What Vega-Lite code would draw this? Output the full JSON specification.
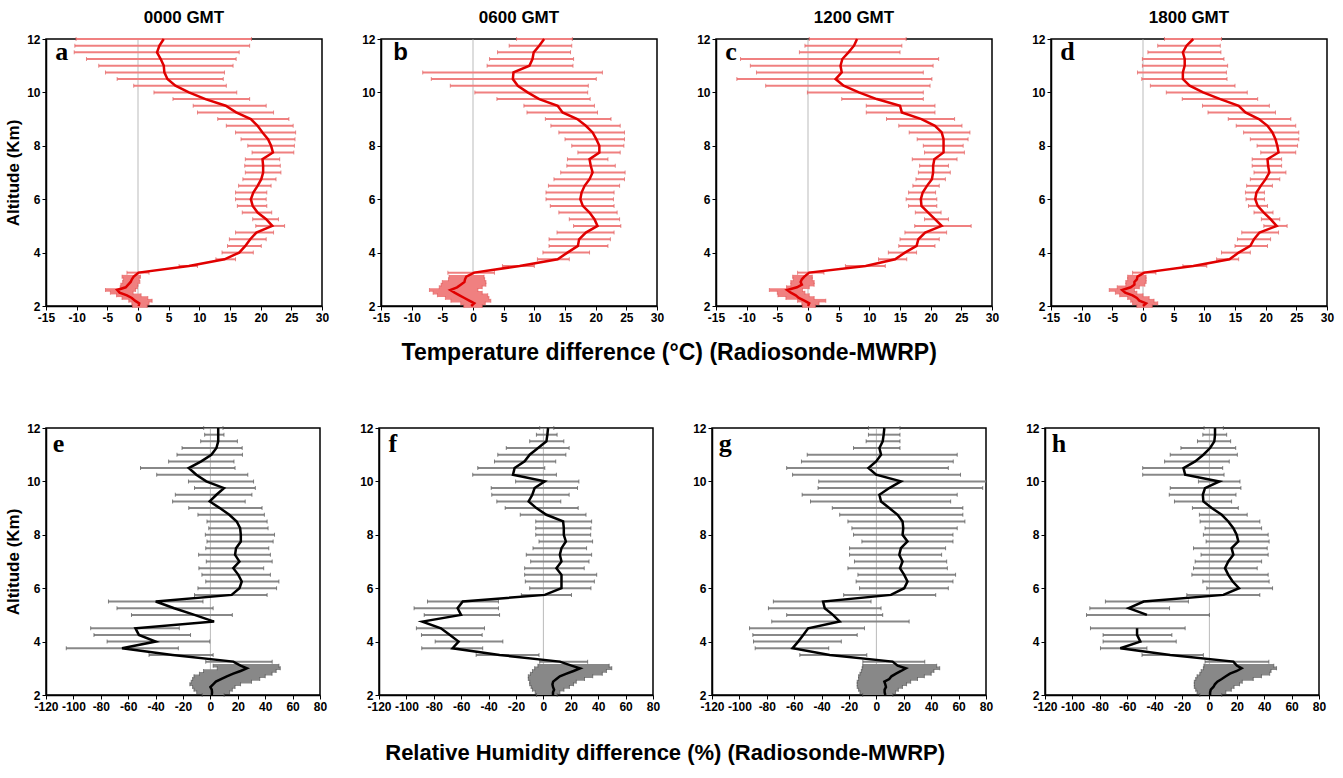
{
"$schema": "https://vega.github.io/schema/vega-lite/v6.json",
"padding": {"left": 3, "top": 8, "right": 5, "bottom": 5},
"background": "white",
"datasets": {
"a": [{"alt":12,"m":4.2,"lo":-10.1,"hi":18.5},{"alt":11.75,"m":3.5,"lo":-10.3,"hi":18.2},{"alt":11.5,"m":3.1,"lo":-10.4,"hi":16.5},{"alt":11.25,"m":3.7,"lo":-8.4,"hi":16.0},{"alt":11,"m":4.2,"lo":-6.4,"hi":15.5},{"alt":10.75,"m":4.3,"lo":-5.3,"hi":14.1},{"alt":10.5,"m":4.8,"lo":-3.4,"hi":13.9},{"alt":10.25,"m":6.1,"lo":-0.7,"hi":14.4},{"alt":10,"m":8.3,"lo":2.6,"hi":16.1},{"alt":9.75,"m":11.0,"lo":5.7,"hi":18.2},{"alt":9.5,"m":14.3,"lo":9.0,"hi":20.9},{"alt":9.25,"m":16.0,"lo":9.7,"hi":22.1},{"alt":9,"m":18.4,"lo":13.0,"hi":24.6},{"alt":8.75,"m":19.5,"lo":14.4,"hi":25.3},{"alt":8.5,"m":20.3,"lo":15.9,"hi":25.7},{"alt":8.25,"m":21.2,"lo":16.8,"hi":25.6},{"alt":8,"m":21.7,"lo":17.9,"hi":25.5},{"alt":7.75,"m":22.0,"lo":18.6,"hi":25.4},{"alt":7.5,"m":20.3,"lo":17.5,"hi":23.1},{"alt":7.25,"m":20.4,"lo":17.4,"hi":23.2},{"alt":7,"m":20.4,"lo":17.5,"hi":23.3},{"alt":6.75,"m":20.1,"lo":17.1,"hi":22.5},{"alt":6.5,"m":19.5,"lo":16.4,"hi":21.7},{"alt":6.25,"m":18.8,"lo":15.9,"hi":21.0},{"alt":6,"m":18.4,"lo":15.9,"hi":20.9},{"alt":5.75,"m":18.7,"lo":16.2,"hi":21.0},{"alt":5.5,"m":19.5,"lo":17.0,"hi":21.8},{"alt":5.25,"m":20.9,"lo":18.7,"hi":22.9},{"alt":5,"m":21.9,"lo":19.2,"hi":23.9},{"alt":4.75,"m":19.3,"lo":15.9,"hi":22.1},{"alt":4.5,"m":18.3,"lo":14.9,"hi":20.9},{"alt":4.25,"m":17.5,"lo":14.6,"hi":20.1},{"alt":4,"m":16.5,"lo":13.7,"hi":18.8},{"alt":3.75,"m":14.1,"lo":12.7,"hi":15.9},{"alt":3.5,"m":8.3,"lo":6.7,"hi":9.7},{"alt":3.25,"m":0.1,"lo":-1.8,"hi":1.8},{"alt":3.1,"m":-0.7,"lo":-2.6,"hi":0.4},{"alt":3.0,"m":-1.0,"lo":-2.4,"hi":0.2},{"alt":2.9,"m":-1.2,"lo":-2.5,"hi":0.3},{"alt":2.8,"m":-1.6,"lo":-2.8,"hi":0.0},{"alt":2.7,"m":-2.0,"lo":-2.9,"hi":-0.1},{"alt":2.6,"m":-3.4,"lo":-5.3,"hi":-0.4},{"alt":2.5,"m":-3.0,"lo":-4.5,"hi":-0.8},{"alt":2.4,"m":-1.8,"lo":-3.5,"hi":0.5},{"alt":2.3,"m":-1.0,"lo":-2.6,"hi":1.6},{"alt":2.2,"m":-0.5,"lo":-1.5,"hi":2.3},{"alt":2.1,"m":0.2,"lo":-1.0,"hi":1.8},{"alt":2.0,"m":0.1,"lo":-0.9,"hi":1.5}],
"b": [{"alt":12,"m":11.6,"lo":7.1,"hi":16.2},{"alt":11.75,"m":10.8,"lo":5.9,"hi":16.1},{"alt":11.5,"m":9.9,"lo":4.0,"hi":15.9},{"alt":11.25,"m":9.7,"lo":2.7,"hi":16.4},{"alt":11,"m":9.2,"lo":2.3,"hi":16.3},{"alt":10.75,"m":6.6,"lo":-8.2,"hi":21.1},{"alt":10.5,"m":6.5,"lo":-6.8,"hi":20.1},{"alt":10.25,"m":7.3,"lo":-3.7,"hi":18.8},{"alt":10,"m":8.9,"lo":0.3,"hi":18.7},{"alt":9.75,"m":10.8,"lo":3.9,"hi":19.1},{"alt":9.5,"m":13.8,"lo":8.3,"hi":19.8},{"alt":9.25,"m":14.6,"lo":8.8,"hi":20.3},{"alt":9,"m":17.0,"lo":11.8,"hi":22.5},{"alt":8.75,"m":18.4,"lo":12.7,"hi":24.0},{"alt":8.5,"m":19.5,"lo":14.0,"hi":24.7},{"alt":8.25,"m":20.1,"lo":15.0,"hi":24.7},{"alt":8,"m":20.6,"lo":16.1,"hi":24.6},{"alt":7.75,"m":20.6,"lo":17.1,"hi":24.0},{"alt":7.5,"m":19.0,"lo":15.4,"hi":22.0},{"alt":7.25,"m":19.2,"lo":15.3,"hi":23.2},{"alt":7,"m":19.5,"lo":14.3,"hi":24.8},{"alt":6.75,"m":19.0,"lo":13.2,"hi":24.7},{"alt":6.5,"m":18.2,"lo":12.3,"hi":23.9},{"alt":6.25,"m":17.7,"lo":11.9,"hi":23.0},{"alt":6,"m":17.5,"lo":11.9,"hi":22.9},{"alt":5.75,"m":17.9,"lo":12.6,"hi":23.0},{"alt":5.5,"m":19.0,"lo":14.0,"hi":23.5},{"alt":5.25,"m":19.8,"lo":15.7,"hi":23.9},{"alt":5,"m":20.3,"lo":16.4,"hi":24.1},{"alt":4.75,"m":18.4,"lo":13.7,"hi":23.0},{"alt":4.5,"m":17.3,"lo":12.4,"hi":22.4},{"alt":4.25,"m":17.1,"lo":12.4,"hi":22.0},{"alt":4,"m":15.4,"lo":11.4,"hi":19.0},{"alt":3.75,"m":13.8,"lo":10.5,"hi":15.7},{"alt":3.5,"m":7.6,"lo":4.8,"hi":10.0},{"alt":3.25,"m":0.2,"lo":-4.1,"hi":3.5},{"alt":3.1,"m":-1.1,"lo":-3.9,"hi":1.8},{"alt":3.0,"m":-1.3,"lo":-4.0,"hi":1.9},{"alt":2.9,"m":-1.4,"lo":-5.0,"hi":2.1},{"alt":2.8,"m":-2.0,"lo":-5.2,"hi":2.1},{"alt":2.7,"m":-2.6,"lo":-5.5,"hi":1.5},{"alt":2.6,"m":-3.7,"lo":-7.1,"hi":0.8},{"alt":2.5,"m":-3.0,"lo":-6.5,"hi":1.5},{"alt":2.4,"m":-2.2,"lo":-5.8,"hi":2.4},{"alt":2.3,"m":-1.4,"lo":-4.5,"hi":2.6},{"alt":2.2,"m":-0.6,"lo":-3.6,"hi":2.9},{"alt":2.1,"m":0.2,"lo":-2.0,"hi":2.0},{"alt":2.0,"m":-0.3,"lo":-1.5,"hi":1.5}],
"c": [{"alt":12,"m":8.0,"lo":0.2,"hi":16.0},{"alt":11.75,"m":7.5,"lo":-0.5,"hi":15.3},{"alt":11.5,"m":6.6,"lo":-1.4,"hi":15.0},{"alt":11.25,"m":5.6,"lo":-11.0,"hi":21.3},{"alt":11,"m":5.3,"lo":-9.4,"hi":20.4},{"alt":10.75,"m":5.5,"lo":-8.4,"hi":18.8},{"alt":10.5,"m":4.5,"lo":-11.6,"hi":20.2},{"alt":10.25,"m":5.8,"lo":-6.9,"hi":19.9},{"alt":10,"m":8.3,"lo":-0.1,"hi":18.8},{"alt":9.75,"m":11.2,"lo":5.5,"hi":18.8},{"alt":9.5,"m":15.0,"lo":9.5,"hi":20.7},{"alt":9.25,"m":15.3,"lo":9.5,"hi":20.7},{"alt":9,"m":18.5,"lo":12.8,"hi":23.9},{"alt":8.75,"m":20.7,"lo":14.8,"hi":25.1},{"alt":8.5,"m":21.8,"lo":16.5,"hi":26.4},{"alt":8.25,"m":22.1,"lo":17.8,"hi":26.1},{"alt":8,"m":22.1,"lo":18.8,"hi":25.3},{"alt":7.75,"m":22.1,"lo":19.0,"hi":25.5},{"alt":7.5,"m":20.6,"lo":17.0,"hi":24.3},{"alt":7.25,"m":20.4,"lo":18.2,"hi":22.9},{"alt":7,"m":20.4,"lo":18.0,"hi":23.2},{"alt":6.75,"m":20.2,"lo":17.6,"hi":22.4},{"alt":6.5,"m":19.4,"lo":17.1,"hi":21.4},{"alt":6.25,"m":18.7,"lo":16.4,"hi":20.8},{"alt":6,"m":18.4,"lo":16.0,"hi":21.0},{"alt":5.75,"m":18.5,"lo":16.4,"hi":21.0},{"alt":5.5,"m":19.6,"lo":17.5,"hi":21.7},{"alt":5.25,"m":20.7,"lo":19.0,"hi":22.9},{"alt":5,"m":21.8,"lo":17.4,"hi":26.6},{"alt":4.75,"m":19.1,"lo":15.8,"hi":22.6},{"alt":4.5,"m":18.0,"lo":15.0,"hi":21.4},{"alt":4.25,"m":17.7,"lo":14.8,"hi":20.7},{"alt":4,"m":15.8,"lo":13.1,"hi":17.7},{"alt":3.75,"m":14.2,"lo":11.5,"hi":16.1},{"alt":3.5,"m":9.4,"lo":6.1,"hi":12.6},{"alt":3.25,"m":0.2,"lo":-1.7,"hi":2.6},{"alt":3.1,"m":-0.6,"lo":-2.5,"hi":0.7},{"alt":3.0,"m":-1.0,"lo":-2.4,"hi":0.7},{"alt":2.9,"m":-1.2,"lo":-2.8,"hi":1.0},{"alt":2.8,"m":-1.0,"lo":-2.8,"hi":1.0},{"alt":2.7,"m":-1.8,"lo":-3.5,"hi":0.2},{"alt":2.6,"m":-3.4,"lo":-6.3,"hi":-0.9},{"alt":2.5,"m":-2.8,"lo":-5.0,"hi":-0.5},{"alt":2.4,"m":-2.0,"lo":-4.9,"hi":0.2},{"alt":2.3,"m":-1.5,"lo":-3.6,"hi":1.0},{"alt":2.2,"m":-0.6,"lo":-1.7,"hi":2.9},{"alt":2.1,"m":0.2,"lo":-1.0,"hi":1.8},{"alt":2.0,"m":0.0,"lo":-0.9,"hi":1.2}],
"d": [{"alt":12,"m":8.2,"lo":3.5,"hi":12.8},{"alt":11.75,"m":7.1,"lo":2.4,"hi":12.6},{"alt":11.5,"m":6.5,"lo":0.8,"hi":12.7},{"alt":11.25,"m":6.8,"lo":-0.1,"hi":13.2},{"alt":11,"m":6.8,"lo":-0.1,"hi":13.8},{"alt":10.75,"m":6.5,"lo":-0.9,"hi":13.6},{"alt":10.5,"m":6.5,"lo":-0.2,"hi":13.7},{"alt":10.25,"m":7.6,"lo":1.2,"hi":15.0},{"alt":10,"m":9.8,"lo":3.8,"hi":17.0},{"alt":9.75,"m":12.6,"lo":6.4,"hi":18.7},{"alt":9.5,"m":15.6,"lo":9.7,"hi":20.6},{"alt":9.25,"m":16.7,"lo":10.6,"hi":21.6},{"alt":9,"m":18.9,"lo":13.9,"hi":24.1},{"alt":8.75,"m":20.3,"lo":15.2,"hi":24.9},{"alt":8.5,"m":21.1,"lo":16.4,"hi":25.4},{"alt":8.25,"m":21.6,"lo":17.5,"hi":25.4},{"alt":8,"m":21.9,"lo":18.6,"hi":25.2},{"alt":7.75,"m":22.1,"lo":19.2,"hi":24.9},{"alt":7.5,"m":20.3,"lo":17.8,"hi":22.6},{"alt":7.25,"m":20.4,"lo":17.8,"hi":22.6},{"alt":7,"m":20.6,"lo":18.1,"hi":23.3},{"alt":6.75,"m":20.0,"lo":17.5,"hi":22.3},{"alt":6.5,"m":19.2,"lo":16.9,"hi":21.1},{"alt":6.25,"m":18.5,"lo":16.7,"hi":19.8},{"alt":6,"m":18.3,"lo":16.8,"hi":19.8},{"alt":5.75,"m":18.7,"lo":17.2,"hi":20.3},{"alt":5.5,"m":19.7,"lo":18.1,"hi":21.2},{"alt":5.25,"m":20.8,"lo":19.3,"hi":22.3},{"alt":5,"m":21.8,"lo":19.7,"hi":23.5},{"alt":4.75,"m":19.0,"lo":16.1,"hi":22.1},{"alt":4.5,"m":18.1,"lo":15.4,"hi":20.8},{"alt":4.25,"m":17.5,"lo":15.0,"hi":20.3},{"alt":4,"m":15.6,"lo":12.8,"hi":17.5},{"alt":3.75,"m":14.1,"lo":12.0,"hi":15.6},{"alt":3.5,"m":8.2,"lo":6.5,"hi":10.4},{"alt":3.25,"m":0.2,"lo":-1.7,"hi":2.1},{"alt":3.1,"m":-0.9,"lo":-2.5,"hi":0.5},{"alt":3.0,"m":-1.0,"lo":-2.5,"hi":0.5},{"alt":2.9,"m":-1.4,"lo":-2.8,"hi":0.5},{"alt":2.8,"m":-1.4,"lo":-2.8,"hi":0.3},{"alt":2.7,"m":-2.0,"lo":-4.2,"hi":-0.6},{"alt":2.6,"m":-3.4,"lo":-5.5,"hi":-1.4},{"alt":2.5,"m":-2.9,"lo":-4.5,"hi":-1.0},{"alt":2.4,"m":-1.7,"lo":-3.8,"hi":0.0},{"alt":2.3,"m":-1.0,"lo":-2.5,"hi":1.0},{"alt":2.2,"m":-0.6,"lo":-2.0,"hi":1.8},{"alt":2.1,"m":0.5,"lo":-1.7,"hi":2.4},{"alt":2.0,"m":0.0,"lo":-1.0,"hi":1.5}],
"e": [{"alt":12,"m":5.7,"lo":-4.9,"hi":9.2},{"alt":11.75,"m":5.7,"lo":-4.2,"hi":9.9},{"alt":11.5,"m":5.7,"lo":-7.1,"hi":19.7},{"alt":11.25,"m":4.4,"lo":-20.7,"hi":23.2},{"alt":11,"m":0.7,"lo":-24.4,"hi":23.4},{"alt":10.75,"m":-6.7,"lo":-30.5,"hi":17.2},{"alt":10.5,"m":-15.8,"lo":-51.0,"hi":18.0},{"alt":10.25,"m":-10.3,"lo":-39.2,"hi":27.3},{"alt":10,"m":-3.0,"lo":-16.0,"hi":31.5},{"alt":9.75,"m":9.9,"lo":-11.6,"hi":32.8},{"alt":9.5,"m":4.4,"lo":-25.6,"hi":30.3},{"alt":9.25,"m":-0.5,"lo":-27.6,"hi":25.4},{"alt":9,"m":6.9,"lo":-15.8,"hi":37.7},{"alt":8.75,"m":13.8,"lo":-9.1,"hi":39.4},{"alt":8.5,"m":19.2,"lo":-2.5,"hi":41.4},{"alt":8.25,"m":21.7,"lo":-1.2,"hi":42.1},{"alt":8,"m":22.2,"lo":-3.7,"hi":46.8},{"alt":7.75,"m":22.2,"lo":-2.5,"hi":45.8},{"alt":7.5,"m":18.7,"lo":-3.4,"hi":42.6},{"alt":7.25,"m":18.0,"lo":-8.6,"hi":43.8},{"alt":7,"m":21.2,"lo":-3.0,"hi":45.1},{"alt":6.75,"m":16.7,"lo":-8.4,"hi":38.9},{"alt":6.5,"m":20.4,"lo":-6.2,"hi":43.8},{"alt":6.25,"m":22.9,"lo":-3.4,"hi":50.0},{"alt":6,"m":21.2,"lo":-9.1,"hi":48.3},{"alt":5.75,"m":15.5,"lo":-11.6,"hi":41.4},{"alt":5.5,"m":-39.9,"lo":-74.4,"hi":-5.4},{"alt":5.25,"m":-26.4,"lo":-68.2,"hi":2.0},{"alt":5,"m":-11.6,"lo":-57.6,"hi":16.0},{"alt":4.75,"m":2.7,"lo":null,"hi":null},{"alt":4.5,"m":-54.7,"lo":-87.4,"hi":-22.7},{"alt":4.25,"m":-52.2,"lo":-85.0,"hi":-14.5},{"alt":4,"m":-39.9,"lo":-75.4,"hi":-0.5},{"alt":3.75,"m":-64.5,"lo":-105.2,"hi":-23.4},{"alt":3.5,"m":-27.6,"lo":-44.8,"hi":2.0},{"alt":3.25,"m":16.7,"lo":-3.4,"hi":45.1},{"alt":3.1,"m":22,"lo":2,"hi":50},{"alt":3.0,"m":26.6,"lo":5,"hi":51},{"alt":2.9,"m":22,"lo":-5,"hi":48},{"alt":2.8,"m":16.7,"lo":-8,"hi":45},{"alt":2.7,"m":12,"lo":-12,"hi":40},{"alt":2.6,"m":8.1,"lo":-13,"hi":36},{"alt":2.5,"m":4,"lo":-14,"hi":30},{"alt":2.4,"m":2,"lo":-15,"hi":22},{"alt":2.3,"m":0,"lo":-13,"hi":18},{"alt":2.2,"m":1,"lo":-12,"hi":16},{"alt":2.1,"m":1.2,"lo":-10,"hi":14},{"alt":2.0,"m":1,"lo":-6,"hi":10}],
"f": [{"alt":12,"m":3.4,"lo":-2.7,"hi":7.6},{"alt":11.75,"m":2.9,"lo":-5.1,"hi":10.0},{"alt":11.5,"m":2.2,"lo":-10.0,"hi":14.9},{"alt":11.25,"m":-3.9,"lo":-27.1,"hi":18.8},{"alt":11,"m":-10.0,"lo":-33.3,"hi":16.4},{"alt":10.75,"m":-13.7,"lo":-35.7,"hi":9.0},{"alt":10.5,"m":-21.0,"lo":-47.9,"hi":1.0},{"alt":10.25,"m":-22.2,"lo":-51.6,"hi":9.5},{"alt":10,"m":1.0,"lo":-20.3,"hi":25.9},{"alt":9.75,"m":-6.4,"lo":-38.1,"hi":24.9},{"alt":9.5,"m":-8.1,"lo":-37.7,"hi":18.8},{"alt":9.25,"m":-10.8,"lo":-34.0,"hi":12.7},{"alt":9,"m":-5.1,"lo":-27.9,"hi":25.4},{"alt":8.75,"m":2.2,"lo":-16.9,"hi":31.1},{"alt":8.5,"m":14.4,"lo":-5.6,"hi":35.2},{"alt":8.25,"m":14.9,"lo":-5.6,"hi":34.7},{"alt":8,"m":14.9,"lo":-5.6,"hi":34.5},{"alt":7.75,"m":16.4,"lo":-3.2,"hi":35.9},{"alt":7.5,"m":13.2,"lo":-7.6,"hi":31.5},{"alt":7.25,"m":12.0,"lo":-12.5,"hi":35.2},{"alt":7,"m":13.2,"lo":-9.3,"hi":33.3},{"alt":6.75,"m":9.5,"lo":-13.7,"hi":29.8},{"alt":6.5,"m":13.2,"lo":-13.7,"hi":38.9},{"alt":6.25,"m":13.2,"lo":-13.2,"hi":37.2},{"alt":6,"m":13.2,"lo":-10.0,"hi":34.7},{"alt":5.75,"m":1.0,"lo":-16.1,"hi":20.5},{"alt":5.5,"m":-58.9,"lo":-84.6,"hi":-32.8},{"alt":5.25,"m":-62.6,"lo":-94.4,"hi":-32.8},{"alt":5,"m":-60.1,"lo":-87.0,"hi":-32.0},{"alt":4.75,"m":-88.3,"lo":null,"hi":null},{"alt":4.5,"m":-74.8,"lo":-92.7,"hi":-43.0},{"alt":4.25,"m":-68.2,"lo":-89.0,"hi":-44.7},{"alt":4,"m":-61.9,"lo":-79.0,"hi":-29.6},{"alt":3.75,"m":-66.3,"lo":-88.8,"hi":-44.3},{"alt":3.5,"m":-32.0,"lo":-49.1,"hi":-3.2},{"alt":3.25,"m":12.0,"lo":-2.7,"hi":32.3},{"alt":3.1,"m":20.5,"lo":-4,"hi":48},{"alt":3.0,"m":26.7,"lo":-6.4,"hi":49.9},{"alt":2.9,"m":22,"lo":-8,"hi":46},{"alt":2.8,"m":16.9,"lo":-9.5,"hi":43},{"alt":2.7,"m":12,"lo":-11,"hi":36},{"alt":2.6,"m":9.5,"lo":-11,"hi":30},{"alt":2.5,"m":7.1,"lo":-10,"hi":24},{"alt":2.4,"m":6.6,"lo":-10,"hi":22},{"alt":2.3,"m":7,"lo":-9,"hi":19},{"alt":2.2,"m":7.8,"lo":-8,"hi":15},{"alt":2.1,"m":7,"lo":-6,"hi":12},{"alt":2.0,"m":7,"lo":-5,"hi":10}],
"g": [{"alt":12,"m":5.8,"lo":-5.8,"hi":17.2},{"alt":11.75,"m":5.3,"lo":-5.8,"hi":17.2},{"alt":11.5,"m":4.6,"lo":-7.5,"hi":17.2},{"alt":11.25,"m":2.2,"lo":-16.7,"hi":17.2},{"alt":11,"m":3.4,"lo":-50.5,"hi":59.0},{"alt":10.75,"m":-0.2,"lo":-54.7,"hi":56.1},{"alt":10.5,"m":-5.8,"lo":-65.5,"hi":52.5},{"alt":10.25,"m":-0.2,"lo":-61.2,"hi":61.4},{"alt":10,"m":17.9,"lo":-42.1,"hi":80},{"alt":9.75,"m":9.4,"lo":-42.6,"hi":77.6},{"alt":9.5,"m":2.2,"lo":-54.2,"hi":59.0},{"alt":9.25,"m":3.4,"lo":-48.1,"hi":54.2},{"alt":9,"m":9.4,"lo":-32.2,"hi":63.1},{"alt":8.75,"m":15.5,"lo":-26.8,"hi":63.1},{"alt":8.5,"m":19.1,"lo":-20.8,"hi":64.6},{"alt":8.25,"m":19.6,"lo":-17.9,"hi":59.0},{"alt":8,"m":19.1,"lo":-16.7,"hi":55.9},{"alt":7.75,"m":22.7,"lo":-10.6,"hi":55.9},{"alt":7.5,"m":17.9,"lo":-19.6,"hi":50.5},{"alt":7.25,"m":16.7,"lo":-19.6,"hi":47.6},{"alt":7,"m":19.1,"lo":-16.0,"hi":51.3},{"alt":6.75,"m":17.2,"lo":-20.8,"hi":51.8},{"alt":6.5,"m":20.3,"lo":-13.5,"hi":57.8},{"alt":6.25,"m":22.7,"lo":-14.8,"hi":55.9},{"alt":6,"m":20.3,"lo":-12.3,"hi":52.5},{"alt":5.75,"m":10.6,"lo":-23.9,"hi":43.3},{"alt":5.5,"m":-38.9,"lo":-75.2,"hi":-3.9},{"alt":5.25,"m":-37.7,"lo":-78.8,"hi":3.4},{"alt":5,"m":-31.7,"lo":-65.5,"hi":4.6},{"alt":4.75,"m":-26.8,"lo":-76.4,"hi":23.9},{"alt":4.5,"m":-49.8,"lo":-92.6,"hi":-8.7},{"alt":4.25,"m":-53.4,"lo":-90.2,"hi":-14.0},{"alt":4,"m":-57.1,"lo":-89.7,"hi":-25.6},{"alt":3.75,"m":-61.2,"lo":-88.5,"hi":-34.8},{"alt":3.5,"m":-34.1,"lo":-55.9,"hi":-7.0},{"alt":3.25,"m":11.8,"lo":-9.9,"hi":35.3},{"alt":3.1,"m":15.5,"lo":-10,"hi":44},{"alt":3.0,"m":21.5,"lo":-10.4,"hi":46.2},{"alt":2.9,"m":18,"lo":-11,"hi":42},{"alt":2.8,"m":14.3,"lo":-12,"hi":40},{"alt":2.7,"m":11,"lo":-13,"hi":35},{"alt":2.6,"m":9.4,"lo":-13,"hi":30},{"alt":2.5,"m":5.8,"lo":-14,"hi":25},{"alt":2.4,"m":6.5,"lo":-14,"hi":22},{"alt":2.3,"m":7,"lo":-14,"hi":19},{"alt":2.2,"m":6,"lo":-13,"hi":16},{"alt":2.1,"m":6,"lo":-12,"hi":14},{"alt":2.0,"m":6.5,"lo":-10,"hi":12}],
"h": [{"alt":12,"m":4.1,"lo":-3.9,"hi":10.2},{"alt":11.75,"m":4.1,"lo":-4.8,"hi":12.6},{"alt":11.5,"m":3.6,"lo":-8.7,"hi":15.5},{"alt":11.25,"m":0.5,"lo":-20.8,"hi":19.2},{"alt":11,"m":-4.4,"lo":-28.6,"hi":20.4},{"alt":10.75,"m":-10.4,"lo":-32.7,"hi":14.5},{"alt":10.5,"m":-18.9,"lo":-48.7,"hi":9.7},{"alt":10.25,"m":-17.7,"lo":-48.7,"hi":10.7},{"alt":10,"m":7.3,"lo":-8.0,"hi":22.3},{"alt":9.75,"m":-3.2,"lo":-28.6,"hi":23.0},{"alt":9.5,"m":-4.8,"lo":-29.3,"hi":19.4},{"alt":9.25,"m":-4.4,"lo":-25.5,"hi":16.2},{"alt":9,"m":1.7,"lo":-12.4,"hi":21.1},{"alt":8.75,"m":9.0,"lo":-7.3,"hi":27.6},{"alt":8.5,"m":13.8,"lo":-6.8,"hi":36.8},{"alt":8.25,"m":17.5,"lo":-3.2,"hi":38.1},{"alt":8,"m":19.9,"lo":-4.4,"hi":42.9},{"alt":7.75,"m":21.1,"lo":-2.4,"hi":43.6},{"alt":7.5,"m":16.2,"lo":-11.6,"hi":42.2},{"alt":7.25,"m":17.5,"lo":-6.1,"hi":42.9},{"alt":7,"m":13.8,"lo":-10.4,"hi":38.1},{"alt":6.75,"m":11.4,"lo":-11.6,"hi":34.9},{"alt":6.5,"m":13.8,"lo":-12.8,"hi":42.9},{"alt":6.25,"m":17.0,"lo":-4.8,"hi":43.6},{"alt":6,"m":21.6,"lo":-1.9,"hi":46.1},{"alt":5.75,"m":10.2,"lo":-16.5,"hi":36.8},{"alt":5.5,"m":-48.0,"lo":-75.9,"hi":-15.3},{"alt":5.25,"m":-58.9,"lo":-87.3,"hi":-29.1},{"alt":5,"m":-45.6,"lo":-89.7,"hi":0},{"alt":4.75,"m":null,"lo":null,"hi":null},{"alt":4.5,"m":-52.8,"lo":-86.8,"hi":-17.7},{"alt":4.25,"m":-52.8,"lo":-77.6,"hi":-27.4},{"alt":4,"m":-50.4,"lo":-77.6,"hi":-24.2},{"alt":3.75,"m":-65.0,"lo":-79.5,"hi":-45.6},{"alt":3.5,"m":-28.6,"lo":-49.2,"hi":-4.4},{"alt":3.25,"m":17.5,"lo":-3.2,"hi":43.4},{"alt":3.1,"m":20,"lo":-4,"hi":47},{"alt":3.0,"m":23.5,"lo":-4.4,"hi":49.0},{"alt":2.9,"m":20,"lo":-6,"hi":45},{"alt":2.8,"m":15.0,"lo":-7,"hi":44},{"alt":2.7,"m":12,"lo":-9,"hi":38},{"alt":2.6,"m":9,"lo":-10,"hi":32},{"alt":2.5,"m":5.8,"lo":-11,"hi":24},{"alt":2.4,"m":4,"lo":-11,"hi":22},{"alt":2.3,"m":2.9,"lo":-11,"hi":18},{"alt":2.2,"m":1.0,"lo":-10,"hi":16},{"alt":2.1,"m":0.5,"lo":-9,"hi":12},{"alt":2.0,"m":0.5,"lo":-7,"hi":9}]
},
"config": {
  "view": {"stroke": "black", "strokeWidth": 1.5},
  "axis": {"grid": false, "domainColor": "black", "domainWidth": 1.5, "tickColor": "black", "tickSize": 4, "labelFont": "Liberation Sans", "labelFontWeight": "bold", "labelFontSize": 12, "labelColor": "black", "labelFlush": false, "labelOverlap": false, "labelPadding": 2, "titleFont": "Liberation Sans", "titleFontWeight": "bold", "titleFontSize": 17, "titleColor": "black", "titlePadding": 4},
  "title": {"font": "Liberation Sans", "fontWeight": "bold", "fontSize": 17, "color": "black", "offset": 6}
},
"spacing": 56,
"vconcat": [
 {
  "title": {"text": "Temperature difference (°C) (Radiosonde-MWRP)", "orient": "bottom", "anchor": "middle", "fontSize": 23, "offset": 18},
  "bounds": "flush",
  "spacing": 59,
  "hconcat": [
   {"width": 276, "height": 267, "title": "0000 GMT", "data": {"name": "a"},
    "layer": [
     {"data": {"values": [{}]}, "mark": {"type": "rule", "color": "#aaaaaa", "strokeWidth": 0.8}, "encoding": {"x": {"datum": 0, "type": "quantitative", "scale": {"domain": [-15, 30], "nice": false}, "axis": {"values": [-15,-10,-5,0,5,10,15,20,25,30], "tickCount": 20, "labelExpr": "toString(datum.value)", "title": null, "labelOverlap": false}}}},
     {"mark": {"type": "rule", "color": "#f08080"}, "encoding": {"strokeWidth": {"condition": {"test": "datum.alt < 3.2", "value": 3.5}, "value": 2}, "y": {"field": "alt", "type": "quantitative", "scale": {"domain": [2, 12], "nice": false, "zero": false}, "axis": {"values": [2,4,6,8,10,12], "tickCount": 20, "labelExpr": "toString(datum.value)", "title": "Altitude (Km)", "labelOverlap": false}}, "x": {"field": "lo", "type": "quantitative"}, "x2": {"field": "hi"}}},
     {"mark": {"type": "tick", "orient": "vertical", "size": 4, "thickness": 1, "color": "#e06060"}, "encoding": {"y": {"field": "alt", "type": "quantitative"}, "x": {"field": "lo", "type": "quantitative"}}},
     {"mark": {"type": "tick", "orient": "vertical", "size": 4, "thickness": 1, "color": "#e06060"}, "encoding": {"y": {"field": "alt", "type": "quantitative"}, "x": {"field": "hi", "type": "quantitative"}}},
     {"mark": {"type": "line", "color": "#e00000", "strokeWidth": 2.5}, "encoding": {"y": {"field": "alt", "type": "quantitative"}, "x": {"field": "m", "type": "quantitative"}, "order": {"field": "alt"}}},
     {"data": {"values": [{"t": "a"}]}, "mark": {"type": "text", "font": "Liberation Serif", "fontWeight": "bold", "fontSize": 26, "align": "left", "baseline": "alphabetic", "color": "black"}, "encoding": {"text": {"field": "t"}, "x": {"datum": -13.5}, "y": {"datum": 11.2}}}
    ]},
   {"width": 276, "height": 267, "title": "0600 GMT", "data": {"name": "b"},
    "layer": [
     {"data": {"values": [{}]}, "mark": {"type": "rule", "color": "#aaaaaa", "strokeWidth": 0.8}, "encoding": {"x": {"datum": 0, "type": "quantitative", "scale": {"domain": [-15, 30], "nice": false}, "axis": {"values": [-15,-10,-5,0,5,10,15,20,25,30], "tickCount": 20, "labelExpr": "toString(datum.value)", "title": null, "labelOverlap": false}}}},
     {"mark": {"type": "rule", "color": "#f08080"}, "encoding": {"strokeWidth": {"condition": {"test": "datum.alt < 3.2", "value": 3.5}, "value": 2}, "y": {"field": "alt", "type": "quantitative", "scale": {"domain": [2, 12], "nice": false, "zero": false}, "axis": {"values": [2,4,6,8,10,12], "tickCount": 20, "labelExpr": "toString(datum.value)", "title": null, "labelOverlap": false}}, "x": {"field": "lo", "type": "quantitative"}, "x2": {"field": "hi"}}},
     {"mark": {"type": "tick", "orient": "vertical", "size": 4, "thickness": 1, "color": "#e06060"}, "encoding": {"y": {"field": "alt", "type": "quantitative"}, "x": {"field": "lo", "type": "quantitative"}}},
     {"mark": {"type": "tick", "orient": "vertical", "size": 4, "thickness": 1, "color": "#e06060"}, "encoding": {"y": {"field": "alt", "type": "quantitative"}, "x": {"field": "hi", "type": "quantitative"}}},
     {"mark": {"type": "line", "color": "#e00000", "strokeWidth": 2.5}, "encoding": {"y": {"field": "alt", "type": "quantitative"}, "x": {"field": "m", "type": "quantitative"}, "order": {"field": "alt"}}},
     {"data": {"values": [{"t": "b"}]}, "mark": {"type": "text", "font": "Liberation Sans", "fontWeight": "bold", "fontSize": 24, "align": "left", "baseline": "alphabetic", "color": "black"}, "encoding": {"text": {"field": "t"}, "x": {"datum": -13}, "y": {"datum": 11.2}}}
    ]},
   {"width": 276, "height": 267, "title": "1200 GMT", "data": {"name": "c"},
    "layer": [
     {"data": {"values": [{}]}, "mark": {"type": "rule", "color": "#aaaaaa", "strokeWidth": 0.8}, "encoding": {"x": {"datum": 0, "type": "quantitative", "scale": {"domain": [-15, 30], "nice": false}, "axis": {"values": [-15,-10,-5,0,5,10,15,20,25,30], "tickCount": 20, "labelExpr": "toString(datum.value)", "title": null, "labelOverlap": false}}}},
     {"mark": {"type": "rule", "color": "#f08080"}, "encoding": {"strokeWidth": {"condition": {"test": "datum.alt < 3.2", "value": 3.5}, "value": 2}, "y": {"field": "alt", "type": "quantitative", "scale": {"domain": [2, 12], "nice": false, "zero": false}, "axis": {"values": [2,4,6,8,10,12], "tickCount": 20, "labelExpr": "toString(datum.value)", "title": null, "labelOverlap": false}}, "x": {"field": "lo", "type": "quantitative"}, "x2": {"field": "hi"}}},
     {"mark": {"type": "tick", "orient": "vertical", "size": 4, "thickness": 1, "color": "#e06060"}, "encoding": {"y": {"field": "alt", "type": "quantitative"}, "x": {"field": "lo", "type": "quantitative"}}},
     {"mark": {"type": "tick", "orient": "vertical", "size": 4, "thickness": 1, "color": "#e06060"}, "encoding": {"y": {"field": "alt", "type": "quantitative"}, "x": {"field": "hi", "type": "quantitative"}}},
     {"mark": {"type": "line", "color": "#e00000", "strokeWidth": 2.5}, "encoding": {"y": {"field": "alt", "type": "quantitative"}, "x": {"field": "m", "type": "quantitative"}, "order": {"field": "alt"}}},
     {"data": {"values": [{"t": "c"}]}, "mark": {"type": "text", "font": "Liberation Serif", "fontWeight": "bold", "fontSize": 26, "align": "left", "baseline": "alphabetic", "color": "black"}, "encoding": {"text": {"field": "t"}, "x": {"datum": -13.5}, "y": {"datum": 11.2}}}
    ]},
   {"width": 276, "height": 267, "title": "1800 GMT", "data": {"name": "d"},
    "layer": [
     {"data": {"values": [{}]}, "mark": {"type": "rule", "color": "#aaaaaa", "strokeWidth": 0.8}, "encoding": {"x": {"datum": 0, "type": "quantitative", "scale": {"domain": [-15, 30], "nice": false}, "axis": {"values": [-15,-10,-5,0,5,10,15,20,25,30], "tickCount": 20, "labelExpr": "toString(datum.value)", "title": null, "labelOverlap": false}}}},
     {"mark": {"type": "rule", "color": "#f08080"}, "encoding": {"strokeWidth": {"condition": {"test": "datum.alt < 3.2", "value": 3.5}, "value": 2}, "y": {"field": "alt", "type": "quantitative", "scale": {"domain": [2, 12], "nice": false, "zero": false}, "axis": {"values": [2,4,6,8,10,12], "tickCount": 20, "labelExpr": "toString(datum.value)", "title": null, "labelOverlap": false}}, "x": {"field": "lo", "type": "quantitative"}, "x2": {"field": "hi"}}},
     {"mark": {"type": "tick", "orient": "vertical", "size": 4, "thickness": 1, "color": "#e06060"}, "encoding": {"y": {"field": "alt", "type": "quantitative"}, "x": {"field": "lo", "type": "quantitative"}}},
     {"mark": {"type": "tick", "orient": "vertical", "size": 4, "thickness": 1, "color": "#e06060"}, "encoding": {"y": {"field": "alt", "type": "quantitative"}, "x": {"field": "hi", "type": "quantitative"}}},
     {"mark": {"type": "line", "color": "#e00000", "strokeWidth": 2.5}, "encoding": {"y": {"field": "alt", "type": "quantitative"}, "x": {"field": "m", "type": "quantitative"}, "order": {"field": "alt"}}},
     {"data": {"values": [{"t": "d"}]}, "mark": {"type": "text", "font": "Liberation Serif", "fontWeight": "bold", "fontSize": 26, "align": "left", "baseline": "alphabetic", "color": "black"}, "encoding": {"text": {"field": "t"}, "x": {"datum": -13.5}, "y": {"datum": 11.2}}}
    ]}
  ]
 },
 {
  "title": {"text": "Relative Humidity difference (%) (Radiosonde-MWRP)", "orient": "bottom", "anchor": "middle", "fontSize": 22, "offset": 30},
  "bounds": "flush",
  "spacing": 59,
  "hconcat": [
   {"width": 274, "height": 267, "data": {"name": "e"},
    "layer": [
     {"data": {"values": [{}]}, "mark": {"type": "rule", "color": "#aaaaaa", "strokeWidth": 0.8}, "encoding": {"x": {"datum": 0, "type": "quantitative", "scale": {"domain": [-120, 80], "nice": false}, "axis": {"values": [-120,-100,-80,-60,-40,-20,0,20,40,60,80], "tickCount": 20, "labelExpr": "toString(datum.value)", "title": null, "labelOverlap": false}}}},
     {"mark": {"type": "rule", "color": "#888888", "clip": true}, "encoding": {"strokeWidth": {"condition": {"test": "datum.alt < 3.2", "value": 3.5}, "value": 2}, "y": {"field": "alt", "type": "quantitative", "scale": {"domain": [2, 12], "nice": false, "zero": false}, "axis": {"values": [2,4,6,8,10,12], "tickCount": 20, "labelExpr": "toString(datum.value)", "title": "Altitude (Km)", "labelOverlap": false}}, "x": {"field": "lo", "type": "quantitative"}, "x2": {"field": "hi"}}},
     {"mark": {"type": "tick", "orient": "vertical", "size": 4, "thickness": 1, "color": "#555555"}, "encoding": {"y": {"field": "alt", "type": "quantitative"}, "x": {"field": "lo", "type": "quantitative"}}},
     {"mark": {"type": "tick", "orient": "vertical", "size": 4, "thickness": 1, "color": "#555555"}, "encoding": {"y": {"field": "alt", "type": "quantitative"}, "x": {"field": "hi", "type": "quantitative"}}},
     {"mark": {"type": "line", "color": "black", "strokeWidth": 2.5}, "encoding": {"y": {"field": "alt", "type": "quantitative"}, "x": {"field": "m", "type": "quantitative"}, "order": {"field": "alt"}}},
     {"data": {"values": [{"t": "e"}]}, "mark": {"type": "text", "font": "Liberation Serif", "fontWeight": "bold", "fontSize": 26, "align": "left", "baseline": "alphabetic", "color": "black"}, "encoding": {"text": {"field": "t"}, "x": {"datum": -115}, "y": {"datum": 11.1}}}
    ]},
   {"width": 274, "height": 267, "data": {"name": "f"},
    "layer": [
     {"data": {"values": [{}]}, "mark": {"type": "rule", "color": "#aaaaaa", "strokeWidth": 0.8}, "encoding": {"x": {"datum": 0, "type": "quantitative", "scale": {"domain": [-120, 80], "nice": false}, "axis": {"values": [-120,-100,-80,-60,-40,-20,0,20,40,60,80], "tickCount": 20, "labelExpr": "toString(datum.value)", "title": null, "labelOverlap": false}}}},
     {"mark": {"type": "rule", "color": "#888888", "clip": true}, "encoding": {"strokeWidth": {"condition": {"test": "datum.alt < 3.2", "value": 3.5}, "value": 2}, "y": {"field": "alt", "type": "quantitative", "scale": {"domain": [2, 12], "nice": false, "zero": false}, "axis": {"values": [2,4,6,8,10,12], "tickCount": 20, "labelExpr": "toString(datum.value)", "title": null, "labelOverlap": false}}, "x": {"field": "lo", "type": "quantitative"}, "x2": {"field": "hi"}}},
     {"mark": {"type": "tick", "orient": "vertical", "size": 4, "thickness": 1, "color": "#555555"}, "encoding": {"y": {"field": "alt", "type": "quantitative"}, "x": {"field": "lo", "type": "quantitative"}}},
     {"mark": {"type": "tick", "orient": "vertical", "size": 4, "thickness": 1, "color": "#555555"}, "encoding": {"y": {"field": "alt", "type": "quantitative"}, "x": {"field": "hi", "type": "quantitative"}}},
     {"mark": {"type": "line", "color": "black", "strokeWidth": 2.5}, "encoding": {"y": {"field": "alt", "type": "quantitative"}, "x": {"field": "m", "type": "quantitative"}, "order": {"field": "alt"}}},
     {"data": {"values": [{"t": "f"}]}, "mark": {"type": "text", "font": "Liberation Serif", "fontWeight": "bold", "fontSize": 26, "align": "left", "baseline": "alphabetic", "color": "black"}, "encoding": {"text": {"field": "t"}, "x": {"datum": -113}, "y": {"datum": 11.1}}}
    ]},
   {"width": 274, "height": 267, "data": {"name": "g"},
    "layer": [
     {"data": {"values": [{}]}, "mark": {"type": "rule", "color": "#aaaaaa", "strokeWidth": 0.8}, "encoding": {"x": {"datum": 0, "type": "quantitative", "scale": {"domain": [-120, 80], "nice": false}, "axis": {"values": [-120,-100,-80,-60,-40,-20,0,20,40,60,80], "tickCount": 20, "labelExpr": "toString(datum.value)", "title": null, "labelOverlap": false}}}},
     {"mark": {"type": "rule", "color": "#888888", "clip": true}, "encoding": {"strokeWidth": {"condition": {"test": "datum.alt < 3.2", "value": 3.5}, "value": 2}, "y": {"field": "alt", "type": "quantitative", "scale": {"domain": [2, 12], "nice": false, "zero": false}, "axis": {"values": [2,4,6,8,10,12], "tickCount": 20, "labelExpr": "toString(datum.value)", "title": null, "labelOverlap": false}}, "x": {"field": "lo", "type": "quantitative"}, "x2": {"field": "hi"}}},
     {"mark": {"type": "tick", "orient": "vertical", "size": 4, "thickness": 1, "color": "#555555"}, "encoding": {"y": {"field": "alt", "type": "quantitative"}, "x": {"field": "lo", "type": "quantitative"}}},
     {"mark": {"type": "tick", "orient": "vertical", "size": 4, "thickness": 1, "color": "#555555"}, "encoding": {"y": {"field": "alt", "type": "quantitative"}, "x": {"field": "hi", "type": "quantitative"}}},
     {"mark": {"type": "line", "color": "black", "strokeWidth": 2.5}, "encoding": {"y": {"field": "alt", "type": "quantitative"}, "x": {"field": "m", "type": "quantitative"}, "order": {"field": "alt"}}},
     {"data": {"values": [{"t": "g"}]}, "mark": {"type": "text", "font": "Liberation Serif", "fontWeight": "bold", "fontSize": 26, "align": "left", "baseline": "alphabetic", "color": "black"}, "encoding": {"text": {"field": "t"}, "x": {"datum": -115}, "y": {"datum": 11.1}}}
    ]},
   {"width": 274, "height": 267, "data": {"name": "h"},
    "layer": [
     {"data": {"values": [{}]}, "mark": {"type": "rule", "color": "#aaaaaa", "strokeWidth": 0.8}, "encoding": {"x": {"datum": 0, "type": "quantitative", "scale": {"domain": [-120, 80], "nice": false}, "axis": {"values": [-120,-100,-80,-60,-40,-20,0,20,40,60,80], "tickCount": 20, "labelExpr": "toString(datum.value)", "title": null, "labelOverlap": false}}}},
     {"mark": {"type": "rule", "color": "#888888", "clip": true}, "encoding": {"strokeWidth": {"condition": {"test": "datum.alt < 3.2", "value": 3.5}, "value": 2}, "y": {"field": "alt", "type": "quantitative", "scale": {"domain": [2, 12], "nice": false, "zero": false}, "axis": {"values": [2,4,6,8,10,12], "tickCount": 20, "labelExpr": "toString(datum.value)", "title": null, "labelOverlap": false}}, "x": {"field": "lo", "type": "quantitative"}, "x2": {"field": "hi"}}},
     {"mark": {"type": "tick", "orient": "vertical", "size": 4, "thickness": 1, "color": "#555555"}, "encoding": {"y": {"field": "alt", "type": "quantitative"}, "x": {"field": "lo", "type": "quantitative"}}},
     {"mark": {"type": "tick", "orient": "vertical", "size": 4, "thickness": 1, "color": "#555555"}, "encoding": {"y": {"field": "alt", "type": "quantitative"}, "x": {"field": "hi", "type": "quantitative"}}},
     {"mark": {"type": "line", "color": "black", "strokeWidth": 2.5, "invalid": "break-paths-show-path-domains"}, "encoding": {"y": {"field": "alt", "type": "quantitative"}, "x": {"field": "m", "type": "quantitative"}, "order": {"field": "alt"}}},
     {"data": {"values": [{"t": "h"}]}, "mark": {"type": "text", "font": "Liberation Serif", "fontWeight": "bold", "fontSize": 26, "align": "left", "baseline": "alphabetic", "color": "black"}, "encoding": {"text": {"field": "t"}, "x": {"datum": -115}, "y": {"datum": 11.1}}}
    ]}
  ]
 }
]
}
